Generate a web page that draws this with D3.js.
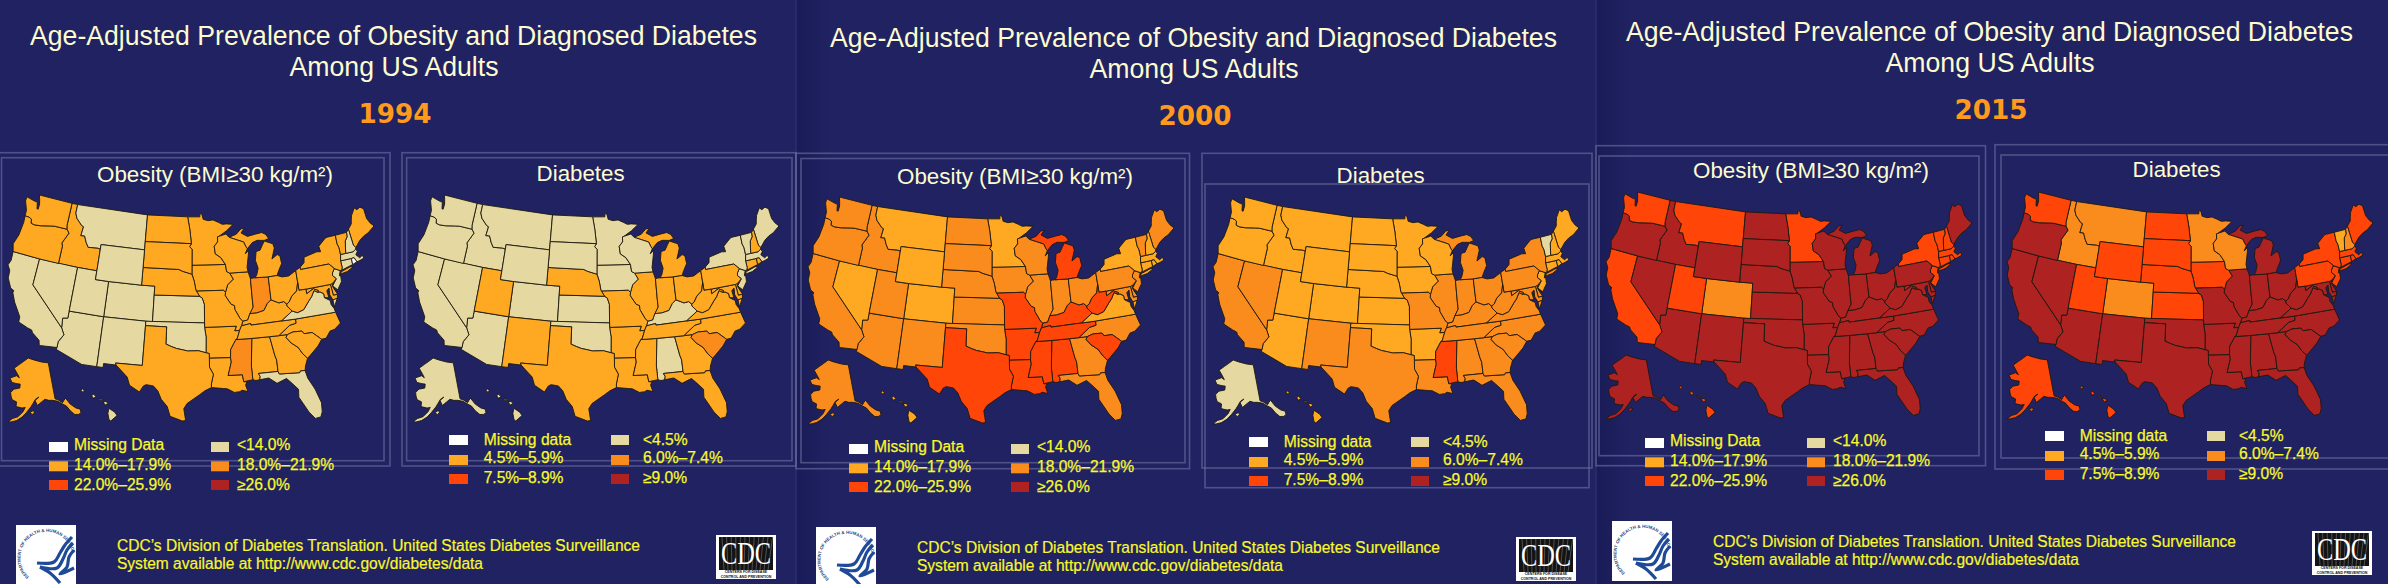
<!DOCTYPE html>
<html><head><meta charset="utf-8">
<script src="https://cdn.jsdelivr.net/npm/d3@7/dist/d3.min.js"></script>
<style>html,body{margin:0;padding:0;background:#202262;overflow:hidden}svg{display:block}text{font-family:"Liberation Sans",Arial,sans-serif}</style>
</head><body><svg id="c" width="2388" height="584"></svg>
<script>
const titleLines=["Age-Adjusted Prevalence of Obesity and Diagnosed Diabetes","Among US Adults"];
const years=["1994","2000","2015"];
const obesityLegend=["Missing Data","14.0%–17.9%","22.0%–25.9%","<14.0%","18.0%–21.9%","≥26.0%"];
const diabetesLegend=["Missing data","4.5%–5.9%","7.5%–8.9%","<4.5%","6.0%–7.4%","≥9.0%"];
const legendClasses=[-1,1,3,0,2,4];
const footerLines=["CDC’s Division of Diabetes Translation. United States Diabetes Surveillance","System available at http://www.cdc.gov/diabetes/data"];
const classDomain=[-1,0,1,2,3,4];
const classColors=["#ffffff","#e5d8a0","#fea921","#fa8c1e","#ff4508","#af2222"];
const stateIds=["AL","AK","AZ","AR","CA","CO","CT","DE","DC","FL","GA","HI","ID","IL","IN","IA","KS","KY","LA","ME","MD","MA","MI","MN","MS","MO","MT","NE","NV","NH","NJ","NM","NY","NC","ND","OH","OK","OR","PA","RI","SC","SD","TN","TX","UT","VT","VA","WA","WV","WI","WY"];
const obesity1994=[1,1,0,1,0,0,0,1,1,0, 1,0,1,1,2,1,0,1,1,1, 1,0,1,1,2,1,0,1,0,0, 0,0,1,1,1,1,0,1,1,-1, 1,1,1,1,0,1,0,1,1,1, 0];
const diabetes1994=[0,0,0,1,0,0,1,1,1,1, 1,0,0,1,1,0,0,0,1,0, 1,0,1,0,1,1,0,1,0,1, 0,1,0,1,0,1,0,0,1,1, 2,0,1,1,1,0,1,0,1,0, 0];
const obesity2000=[3,2,2,3,2,1,1,2,2,2, 2,1,2,2,2,2,2,3,3,2, 2,1,3,1,3,3,1,2,1,1, 2,2,1,2,2,2,2,2,2,1, 3,2,3,3,2,2,1,2,3,2, 1];
const diabetes2000=[2,0,1,1,2,1,1,2,2,2, 2,1,1,2,2,1,1,2,2,1, 2,1,2,1,3,2,1,1,2,1, 1,2,2,2,1,2,1,1,2,1, 2,1,2,2,1,0,2,1,2,1, 1];
const obesity2015=[4,4,4,4,3,2,3,4,4,4, 4,3,4,4,4,4,4,4,4,4, 4,3,4,3,4,4,3,4,4,3, 3,4,3,4,4,4,4,4,4,3, 4,4,4,4,3,3,4,3,4,4, 4];
const diabetes2015=[4,3,4,4,4,2,3,4,4,4, 4,3,2,4,4,3,3,4,4,3, 4,3,4,2,4,4,2,3,4,2, 3,4,3,4,3,4,4,4,3,3, 4,3,4,4,3,1,4,3,4,2, 3];
const stateRings={
WA:[[[-124.7,48.4],[-123.1,48.15],[-122.75,48.15],[-122.5,47.4],[-122.3,47.4],[-122.3,48],[-122.5,48.5],[-122.75,49],[-117.03,49],[-117.04,46.42],[-116.92,45.99],[-118.98,46],[-119.6,45.92],[-121.2,45.65],[-122.2,45.57],[-122.75,45.65],[-122.9,46.1],[-123.4,46.25],[-124.05,46.27],[-124.1,46.9],[-124.7,47.9]]],
OR:[[[-124.05,46.27],[-123.4,46.25],[-122.9,46.1],[-122.75,45.65],[-122.2,45.57],[-121.2,45.65],[-119.6,45.92],[-118.98,46],[-116.92,45.99],[-116.46,45.6],[-116.85,44.95],[-117.22,44.35],[-117.03,44],[-117.03,42],[-120,42],[-124.2,42],[-124.55,42.84],[-124.1,44],[-123.95,45.5]]],
CA:[[[-124.2,42],[-120,42],[-120,39],[-114.63,35],[-114.13,34.27],[-114.72,33.4],[-114.72,32.72],[-117.12,32.53],[-117.3,33.1],[-118.4,33.75],[-118.6,34.03],[-119.2,34.15],[-120.6,34.55],[-120.65,35.15],[-121.9,36.6],[-122.5,37.55],[-122.45,37.8],[-123,38],[-123.75,39],[-123.85,39.85],[-124.35,40.4],[-124.1,41]]],
NV:[[[-120,42],[-114.04,42],[-114.04,37],[-114.04,36.2],[-114.75,36.1],[-114.63,35],[-120,39]]],
ID:[[[-117.03,49],[-116.05,49],[-116.05,48],[-115.7,47.45],[-114.7,46.75],[-114.35,46.65],[-114.5,45.6],[-113.9,45.65],[-113.45,44.95],[-113,44.45],[-111.5,44.55],[-111.05,44.48],[-111.05,42],[-114.04,42],[-117.03,42],[-117.03,44],[-117.22,44.35],[-116.85,44.95],[-116.46,45.6],[-116.92,45.99],[-117.04,46.42]]],
MT:[[[-116.05,49],[-104.05,49],[-104.05,45.94],[-104.05,45],[-111.05,45],[-111.05,44.48],[-111.5,44.55],[-113,44.45],[-113.45,44.95],[-113.9,45.65],[-114.5,45.6],[-114.35,46.65],[-114.7,46.75],[-115.7,47.45],[-116.05,48]]],
WY:[[[-111.05,45],[-104.05,45],[-104.05,43],[-104.05,41],[-109.05,41],[-111.05,41]]],
UT:[[[-114.04,42],[-111.05,42],[-111.05,41],[-109.05,41],[-109.05,37],[-114.04,37]]],
CO:[[[-109.05,41],[-104.05,41],[-102.05,41],[-102.05,40],[-102.05,37],[-103,37],[-109.05,37]]],
AZ:[[[-114.63,35],[-114.75,36.1],[-114.04,36.2],[-114.04,37],[-109.05,37],[-109.05,31.33],[-111.07,31.33],[-114.8,32.5],[-114.72,32.72],[-114.72,33.4],[-114.13,34.27]]],
NM:[[[-109.05,37],[-103,37],[-103,36.5],[-103.04,32],[-106.62,32],[-106.53,31.78],[-108.2,31.78],[-108.2,31.33],[-109.05,31.33]]],
ND:[[[-104.05,49],[-97.23,49],[-96.85,47.6],[-96.56,45.94],[-104.05,45.94]]],
SD:[[[-104.05,45.94],[-96.56,45.94],[-96.85,45.6],[-96.45,45.3],[-96.45,43.5],[-96.45,42.49],[-97.9,42.8],[-98.5,43],[-104.05,43]]],
NE:[[[-104.05,43],[-98.5,43],[-97.9,42.8],[-96.45,42.49],[-96.1,41.7],[-95.85,40.7],[-95.3,40],[-102.05,40],[-102.05,41],[-104.05,41]]],
KS:[[[-102.05,40],[-95.3,40],[-94.9,39.8],[-94.6,39.1],[-94.62,37],[-102.05,37]]],
OK:[[[-103,37],[-94.62,37],[-94.62,36.5],[-94.43,35.4],[-94.48,33.64],[-95.5,33.88],[-97,33.85],[-97.7,33.98],[-98.5,34.1],[-99.2,34.3],[-100,34.56],[-100,36.5],[-103,36.5]]],
TX:[[[-106.62,32],[-103.04,32],[-103,36.5],[-100,36.5],[-100,34.56],[-99.2,34.3],[-98.5,34.1],[-97.7,33.98],[-97,33.85],[-95.5,33.88],[-94.48,33.64],[-94.04,33.55],[-94.04,33.02],[-94.04,32],[-93.55,31.2],[-93.85,30.1],[-93.85,29.7],[-94.7,29.35],[-95.4,28.9],[-97,27.9],[-97.4,27.3],[-97.15,25.96],[-97.55,25.9],[-99.1,26.4],[-99.5,27.5],[-100.3,28.3],[-100.8,29.25],[-101.4,29.77],[-102.35,29.87],[-102.7,29.7],[-103.15,28.98],[-104.5,29.65],[-104.9,30.55],[-106.53,31.78]]],
MN:[[[-97.23,49],[-95.15,49],[-95.15,49.38],[-94.8,49.3],[-94.6,48.72],[-93.8,48.55],[-92.95,48.62],[-92,48.3],[-91.4,48.07],[-90.75,48.1],[-89.6,48],[-90.8,47.3],[-92.05,46.72],[-92.3,46.66],[-92.3,46.1],[-92.88,45.6],[-92.75,44.75],[-91.9,44.3],[-91.22,43.5],[-96.45,43.5],[-96.45,45.3],[-96.85,45.6],[-96.56,45.94],[-96.85,47.6]]],
IA:[[[-96.45,43.5],[-91.22,43.5],[-91.1,42.7],[-90.65,42.5],[-90.15,41.8],[-91.05,41.2],[-91.42,40.38],[-91.73,40.61],[-95.77,40.58],[-95.85,40.7],[-96.1,41.7],[-96.45,42.49]]],
MO:[[[-95.77,40.58],[-91.73,40.61],[-91.42,40.38],[-91.5,40],[-90.7,39],[-90.2,38.8],[-90.2,38.4],[-89.5,37.3],[-89.15,37],[-89.4,36.5],[-89.7,36],[-90.37,36],[-90.1,36.5],[-94.62,36.5],[-94.62,37],[-94.6,39.1],[-94.9,39.8],[-95.3,40]]],
AR:[[[-94.62,36.5],[-90.1,36.5],[-90.37,36],[-89.7,36],[-90.1,35.1],[-90.3,35],[-90.6,34.6],[-91.1,33.9],[-91.17,33],[-94.04,33.02],[-94.04,33.55],[-94.48,33.64],[-94.43,35.4]]],
LA:[[[-94.04,33.02],[-91.17,33],[-91.1,32.5],[-91.6,31],[-89.73,31],[-89.6,30.2],[-89.2,30.15],[-89.4,29.8],[-89.15,29.05],[-89.9,29.25],[-90.2,29.1],[-90.9,29.05],[-91.8,29.5],[-92.3,29.55],[-93.85,29.7],[-93.85,30.1],[-93.55,31.2],[-94.04,32]]],
MS:[[[-91.17,33],[-91.1,33.9],[-90.6,34.6],[-90.3,35],[-88.2,35],[-88.1,34.9],[-88.45,31.9],[-88.4,30.35],[-89.6,30.2],[-89.73,31],[-91.6,31],[-91.1,32.5]]],
AL:[[[-88.2,35],[-85.6,35],[-85.18,32.87],[-85,32.3],[-85,31],[-87.6,31],[-87.4,30.65],[-87.5,30.28],[-88,30.23],[-88.4,30.35],[-88.45,31.9],[-88.1,34.9]]],
GA:[[[-85.6,35],[-84.32,35],[-83.1,35],[-83.35,34.7],[-82.75,34],[-81.9,33.4],[-81.4,32.6],[-80.87,32.03],[-81.3,31.2],[-81.45,30.7],[-82.05,30.75],[-82.2,30.55],[-84.86,30.7],[-85,31],[-85,32.3],[-85.18,32.87]]],
FL:[[[-87.6,31],[-85,31],[-84.86,30.7],[-82.2,30.55],[-82.05,30.75],[-81.45,30.7],[-81.25,29.8],[-80.55,28.45],[-80.03,26.8],[-80.13,25.75],[-80.4,25.2],[-81.1,25.13],[-81.75,25.95],[-82.15,26.7],[-82.75,27.8],[-82.65,28.7],[-83.4,29.5],[-84,30.1],[-85.3,29.68],[-86.3,30.38],[-87.5,30.28],[-87.4,30.65]]],
SC:[[[-83.1,35],[-82.3,35.2],[-81.05,35.15],[-80.8,34.82],[-79.67,34.8],[-78.55,33.86],[-79.2,33.2],[-80.45,32.3],[-80.87,32.03],[-81.4,32.6],[-81.9,33.4],[-82.75,34],[-83.35,34.7]]],
NC:[[[-84.32,35],[-83.1,35],[-82.3,35.2],[-81.05,35.15],[-80.8,34.82],[-79.67,34.8],[-78.55,33.86],[-77.9,33.9],[-77.2,34.6],[-76.5,34.7],[-75.55,35.25],[-75.9,36.55],[-81.68,36.59],[-81.7,36.12],[-82.6,36]]],
TN:[[[-90.3,35],[-88.2,35],[-85.6,35],[-84.32,35],[-82.6,36],[-81.7,36.12],[-81.68,36.59],[-83.67,36.6],[-88.05,36.5],[-88.07,36.68],[-89.4,36.5],[-89.7,36],[-90.1,35.1]]],
KY:[[[-89.4,36.5],[-88.07,36.68],[-88.05,36.5],[-83.67,36.6],[-81.97,37.54],[-82.6,38.17],[-82.6,38.4],[-83,38.73],[-83.7,38.65],[-84.8,39.1],[-85.4,38.73],[-86,38],[-87.1,37.8],[-88.05,37.8],[-88.45,37.1],[-89.15,37]]],
VA:[[[-83.67,36.6],[-81.68,36.59],[-75.9,36.55],[-76,37],[-76.3,37.5],[-76.3,37.95],[-77.05,38.4],[-77.05,38.85],[-77.5,39.1],[-77.83,39.13],[-78.35,39.4],[-78.87,38.76],[-79.3,38.42],[-80.3,37.5],[-81.25,37.27],[-81.97,37.54]],[[-75.9,37.95],[-75.25,38.03],[-75.9,37.15]]],
WV:[[[-81.97,37.54],[-81.25,37.27],[-80.3,37.5],[-79.3,38.42],[-78.87,38.76],[-78.35,39.4],[-77.83,39.13],[-77.72,39.32],[-78.4,39.62],[-79.48,39.2],[-79.48,39.72],[-80.52,39.72],[-80.52,40.64],[-80.87,39.7],[-81.7,39.2],[-82.2,38.6],[-82.6,38.4],[-82.6,38.17]]],
OH:[[[-84.8,41.7],[-83.45,41.73],[-82.7,41.5],[-81.7,41.5],[-80.52,41.98],[-80.52,40.64],[-80.87,39.7],[-81.7,39.2],[-82.2,38.6],[-82.6,38.4],[-83,38.73],[-83.7,38.65],[-84.8,39.1]]],
IN:[[[-87.53,41.7],[-87.2,41.75],[-86.8,41.76],[-84.8,41.7],[-84.8,39.1],[-85.4,38.73],[-86,38],[-87.1,37.8],[-88.05,37.8],[-87.5,38.5],[-87.53,39.35]]],
IL:[[[-90.65,42.5],[-87.8,42.5],[-87.53,41.7],[-87.53,39.35],[-87.5,38.5],[-88.05,37.8],[-88.45,37.1],[-89.15,37],[-89.5,37.3],[-90.2,38.4],[-90.2,38.8],[-90.7,39],[-91.5,40],[-91.42,40.38],[-91.05,41.2],[-90.15,41.8]]],
WI:[[[-92.3,46.66],[-92.05,46.72],[-90.9,46.95],[-90.4,46.55],[-88.1,45.9],[-87.8,45.35],[-87.6,45.1],[-88,44.55],[-87.4,44.9],[-87.55,44.3],[-87.9,43],[-87.8,42.5],[-90.65,42.5],[-91.1,42.7],[-91.22,43.5],[-91.9,44.3],[-92.75,44.75],[-92.88,45.6],[-92.3,46.1]]],
MI:[[[-86.8,41.76],[-84.8,41.7],[-83.45,41.73],[-83.1,42.25],[-82.5,43],[-82.6,43.9],[-83,44.07],[-83.9,43.65],[-83.3,44.85],[-83.45,45.35],[-84.75,45.78],[-85.1,45.4],[-85.6,44.8],[-86.25,44.7],[-86.5,43.7],[-86.2,42.8],[-86.5,42.1]],[[-90.4,46.55],[-89.2,46.85],[-88.4,47.4],[-87.8,47.47],[-88.4,46.95],[-87.4,46.5],[-86.1,46.67],[-85,46.77],[-84.4,46.5],[-84,46],[-84.75,45.85],[-85.9,45.95],[-86.7,45.75],[-87.6,45.1],[-87.8,45.35],[-88.1,45.9]]],
PA:[[[-80.52,41.98],[-79.76,42.27],[-79.76,42],[-75.35,42],[-74.7,41.36],[-75.1,40.95],[-75.2,40.65],[-74.75,40.2],[-75.4,39.8],[-75.78,39.72],[-79.48,39.72],[-80.52,39.72]]],
NY:[[[-79.76,42.27],[-79.05,42.7],[-78.9,43.3],[-76.8,43.63],[-76.2,43.55],[-76.3,44.2],[-75,44.95],[-74.7,45],[-73.35,45],[-73.4,44],[-73.25,43.55],[-73.27,42.75],[-73.5,42.05],[-73.5,41.3],[-73.65,41],[-73.9,41],[-74.7,41.36],[-75.35,42],[-79.76,42]],[[-74.05,40.6],[-73.75,40.85],[-72.3,41.15],[-71.9,41.05],[-72.9,40.7]]],
NJ:[[[-74.7,41.36],[-73.9,41],[-74.2,40.45],[-74,40.4],[-74.1,39.75],[-74.9,38.95],[-75.5,39.5],[-74.75,40.2],[-75.2,40.65],[-75.1,40.95]]],
DE:[[[-75.78,39.72],[-75.4,39.8],[-75.55,39.45],[-75.05,38.45],[-75.7,38.46]]],
MD:[[[-79.48,39.72],[-75.78,39.72],[-75.7,38.46],[-75.05,38.45],[-75.25,38.03],[-75.9,37.95],[-76.2,38.6],[-76.1,39.35],[-76.5,39.1],[-76.4,38.3],[-77.05,38.4],[-77.05,38.85],[-77.5,39.1],[-77.83,39.13],[-77.72,39.32],[-78.4,39.62],[-79.48,39.2]]],
DC:[[[-77.12,38.93],[-77.04,39],[-76.91,38.89],[-77.04,38.79]]],
CT:[[[-73.5,42.05],[-71.8,42.02],[-71.85,41.32],[-73.65,41],[-73.5,41.3]]],
RI:[[[-71.8,42.02],[-71.38,42.02],[-71.12,41.5],[-71.85,41.32]]],
MA:[[[-73.5,42.05],[-73.27,42.75],[-72.46,42.73],[-71.3,42.7],[-70.85,42.88],[-70.6,42.65],[-71,42.3],[-70.55,41.85],[-70.05,42.05],[-69.95,41.7],[-70.65,41.55],[-71.12,41.5],[-71.38,42.02],[-71.8,42.02]]],
VT:[[[-73.35,45],[-71.5,45.01],[-71.6,44.5],[-72.05,44.1],[-72.46,42.73],[-73.27,42.75],[-73.25,43.55],[-73.4,44]]],
NH:[[[-71.5,45.01],[-71.08,45.3],[-70.98,43.4],[-70.7,43.08],[-70.85,42.88],[-71.3,42.7],[-72.46,42.73],[-72.05,44.1],[-71.6,44.5]]],
ME:[[[-71.08,45.3],[-70.4,45.8],[-70.25,46.2],[-70,46.7],[-69.23,47.46],[-68.9,47.18],[-68.3,47.35],[-67.79,47.07],[-67.78,45.9],[-67.45,45.3],[-67,44.85],[-68.2,44.3],[-69,44.1],[-69.8,43.75],[-70.7,43.08],[-70.98,43.4]]],
AK:[[[-141,69.65],[-141,60.3],[-139.5,59.9],[-137.5,58.9],[-136.5,59.4],[-135.4,59.8],[-133.9,58],[-131.8,56.6],[-130,55.9],[-130.2,55],[-131.5,54.8],[-133.2,55.1],[-134.7,56.3],[-136,57.8],[-137.5,58.5],[-139.8,59.55],[-142.5,60.05],[-144.5,60.2],[-146.5,60.6],[-148.5,60],[-150.8,59.2],[-152,60.5],[-149.8,61.3],[-151.7,60.8],[-153.2,59.7],[-154.2,58.9],[-156.5,57.4],[-158.5,56.2],[-161,55.2],[-163.5,54.65],[-164.9,54.6],[-163,55.6],[-160.5,56.2],[-158.2,57.6],[-157.2,58.7],[-158.8,58.5],[-162,58.7],[-162,59.9],[-164.5,60.3],[-165.4,61.1],[-166,62],[-164.5,63],[-161,63.5],[-161,64.5],[-163,64.5],[-166.3,64.6],[-168,65.6],[-164,66.5],[-162,66.1],[-163.8,67.1],[-166.5,68.3],[-163,69.5],[-160,70.4],[-156.6,71.35],[-152,70.85],[-146,70.15]],[[-154.6,57.5],[-153.2,57.9],[-152.2,57.6],[-153.6,56.9]]],
HI:[[[-155.9,20.25],[-155.1,19.85],[-154.8,19.5],[-155.65,18.95],[-155.9,19.1],[-156.05,19.75]],[[-156.7,20.9],[-156.3,20.95],[-156,20.75],[-156.4,20.58]],[[-157.3,21.2],[-156.75,21.17],[-156.75,21.08],[-157.25,21.08]],[[-158.27,21.55],[-158,21.7],[-157.7,21.45],[-157.95,21.3],[-158.1,21.3]],[[-159.75,22.1],[-159.55,22.22],[-159.3,22.1],[-159.4,21.9],[-159.65,21.95]]]
};

/* ---- layout ---- */
const svg=d3.select("#c");
const W=2388,H=584;
svg.append("rect").attr("width",W).attr("height",H).attr("fill","#202262");
const edge=svg.append("defs").append("linearGradient").attr("id","edge");
edge.append("stop").attr("offset",0).attr("stop-color","#1a1c58");
edge.append("stop").attr("offset",1).attr("stop-color","#202262");
[797,1597].forEach(x=>{
  svg.append("rect").attr("x",x).attr("y",0).attr("width",34).attr("height",H).attr("fill","url(#edge)");
  svg.append("line").attr("x1",x-1).attr("x2",x-1).attr("y1",0).attr("y2",H).attr("stroke","#2b2d70").attr("stroke-width",1.5);
});
const color=d3.scaleOrdinal().domain(classDomain).range(classColors);

function regionPath(ids,proj,box){
  const pts=[];
  ids.forEach(id=>stateRings[id].forEach(r=>r.forEach(p=>pts.push(proj(p)))));
  const sx=d3.scaleLinear().domain(d3.extent(pts,p=>p[0])).range([box[0],box[2]]);
  const sy=d3.scaleLinear().domain(d3.extent(pts,p=>p[1])).range([box[1],box[3]]);
  return d3.geoPath(d3.geoTransform({point(x,y){const p=proj([x,y]);this.stream.point(sx(p[0]),sy(p[1]));}}));
}
const lower=stateIds.filter(d=>d!=="AK"&&d!=="HI");
const pathLower=regionPath(lower,d3.geoAlbers(),[8,195,374,421]);
const pathAK=regionPath(["AK"],d3.geoConicEqualArea().rotate([154,0]).center([-2,58.5]).parallels([55,65]),[8,358,81,422]);
const pathHI=regionPath(["HI"],d3.geoConicEqualArea().rotate([157,0]).center([-3,19.9]).parallels([8,18]),[81,389,117,421]);
const pathFor=id=>id==="AK"?pathAK:id==="HI"?pathHI:pathLower;

function drawMap(g,values,dx,dy){
  const m=g.append("g").attr("transform",`translate(${dx},${dy})`);
  m.selectAll("path").data(stateIds).join("path")
    .attr("d",id=>pathFor(id)({type:"MultiPolygon",coordinates:stateRings[id].map(r=>[r.concat([r[0]])])}))
    .attr("fill",(id,i)=>color(values[i]))
    .attr("stroke","#1c1a10").attr("stroke-width",0.9).attr("stroke-linejoin","round");
}
function frame(x0,y0,x1,y1){
  svg.append("rect").attr("x",x0).attr("y",y0).attr("width",x1-x0).attr("height",y1-y0)
    .attr("fill","none").attr("stroke","#6a6c9c").attr("stroke-width",1.6).attr("opacity",.65);
}
function legend(g,labels,x1,x2,tx1,tx2,rowsSw,rowsTx){
  labels.forEach((t,i)=>{
    const col=i<3?0:1,row=i%3;
    g.append("rect").attr("x",col?x2:x1).attr("y",rowsSw[row]).attr("width",col?18:19).attr("height",10)
      .attr("fill",color(legendClasses[i]));
    g.append("text").attr("x",col?tx2:tx1).attr("y",rowsTx[row]+5.5).attr("font-size",15.6).attr("fill","#f8f82a")
      .attr("stroke","#f8f82a").attr("stroke-width",.25).text(t);
  });
}
function hhsLogo(g,x,y){
  const l=g.append("g").attr("transform",`translate(${x},${y})`);
  l.append("rect").attr("width",60).attr("height",60).attr("fill","#fff");
  const id="arc"+x;
  l.append("path").attr("id",id).attr("fill","none").attr("d","M 13 52 A 26 26 0 1 1 56 28");
  l.append("text").attr("font-size",4.4).attr("fill","#24437f").attr("font-weight","bold").append("textPath").attr("href","#"+id).text("DEPARTMENT OF HEALTH & HUMAN SERVICES·USA");
  const ln=d3.line().curve(d3.curveCatmullRom);
  [[[56,12],[49,20],[44,28],[38,37],[21,38]],[[57,18],[51,25],[47,34],[41,43],[24,42]],[[58,25],[53,32],[51,42],[44,49],[58,43]],[[24,42],[34,48],[44,58]]]
    .forEach(s=>l.append("path").attr("d",ln(s)).attr("fill","none").attr("stroke","#1f4a98").attr("stroke-width",3.2));
}
function cdcLogo(g,x,y){
  const l=g.append("g").attr("transform",`translate(${x},${y})`);
  l.append("rect").attr("width",60).attr("height",44).attr("fill","#fff");
  l.append("rect").attr("x",3).attr("y",2).attr("width",54).attr("height",33).attr("fill","#141414");
  d3.range(0,12).forEach(i=>l.append("line").attr("x1",8+i*4).attr("y1",35).attr("x2",6+i*4.6).attr("y2",2).attr("stroke","#8a8a8a").attr("stroke-width",.5));
  l.append("text").attr("x",30).attr("y",29).attr("text-anchor","middle").attr("font-size",31).attr("fill","#fff")
    .attr("textLength",50).attr("lengthAdjust","spacingAndGlyphs").style("font-family","'Liberation Serif',serif").text("CDC");
  l.append("text").attr("x",30).attr("y",38).attr("text-anchor","middle").attr("font-size",3.6).attr("font-weight","bold").attr("fill","#111").text("CENTERS FOR DISEASE");
  l.append("text").attr("x",30).attr("y",42.5).attr("text-anchor","middle").attr("font-size",3.6).attr("font-weight","bold").attr("fill","#111").text("CONTROL AND PREVENTION");
}

/* slide frames */
frame(-5,152.7,390,466); frame(1.5,157.7,384,460.7);
frame(402,152.7,796,466); frame(406.6,157.7,792,460.7);
frame(796,153.3,1189.5,468.7); frame(801,158.5,1185,462.7);
frame(1202,153.3,1592,468); frame(1205,184,1589,487.7);
frame(1596,145.7,1985.5,465.7); frame(1599,156,1979,455.7);
frame(1995,144.7,2400,469); frame(2001,155,2400,458);

const slides=[
 {year:years[0],dx:0,dy:0,map:[0,0],map2:[405,0],ob:obesity1994,di:diabetes1994},
 {year:years[1],dx:800,dy:2,map:[800,2],map2:[1205,2],ob:obesity2000,di:diabetes2000},
 {year:years[2],dx:1596,dy:-4,map:[1598,-3],map2:[1999,-3],ob:obesity2015,di:diabetes2015}
];
slides.forEach(s=>{
  const g=svg.append("g");
  const t=g.append("g").attr("transform",`translate(${s.dx},${s.dy})`);
  t.append("text").attr("x",393.5).attr("y",44.5).attr("text-anchor","middle").attr("font-size",27.5).attr("fill","#fdfbd0")
    .attr("textLength",727).attr("lengthAdjust","spacingAndGlyphs").text(titleLines[0]);
  t.append("text").attr("x",394).attr("y",75.5).attr("text-anchor","middle").attr("font-size",27.5).attr("fill","#fdfbd0")
    .attr("textLength",209).attr("lengthAdjust","spacingAndGlyphs").text(titleLines[1]);
  t.append("text").attr("x",395).attr("y",123).attr("text-anchor","middle").attr("font-size",27).attr("font-weight","bold")
    .attr("fill","#ff9a1c").attr("textLength",73).attr("lengthAdjust","spacingAndGlyphs").style("font-family","'DejaVu Sans',sans-serif").text(s.year);
  t.append("text").attr("x",215).attr("y",182).attr("text-anchor","middle").attr("font-size",22.5).attr("fill","#fdfbd0")
    .attr("textLength",236).attr("lengthAdjust","spacingAndGlyphs").text("Obesity (BMI≥30 kg/m²)");
  t.append("text").attr("x",580.6).attr("y",181).attr("text-anchor","middle").attr("font-size",22.5).attr("fill","#fdfbd0")
    .attr("textLength",88).attr("lengthAdjust","spacingAndGlyphs").text("Diabetes");
  legend(t,obesityLegend,49,211,74,237,[442,461.3,480],[444.7,464.7,484.3]);
  legend(t,diabetesLegend,449,611,483.7,643,[435,455,474],[439,457.7,477.7]);
  t.append("text").attr("x",117).attr("y",551).attr("font-size",15.8).attr("fill","#f8f82a").attr("stroke","#f8f82a").attr("stroke-width",.2)
    .attr("textLength",523).attr("lengthAdjust","spacingAndGlyphs").text(footerLines[0]);
  t.append("text").attr("x",117).attr("y",569).attr("font-size",15.8).attr("fill","#f8f82a").attr("stroke","#f8f82a").attr("stroke-width",.2)
    .attr("textLength",366).attr("lengthAdjust","spacingAndGlyphs").text(footerLines[1]);
  hhsLogo(t,16,525); cdcLogo(t,716,535);
  drawMap(g,s.ob,s.map[0],s.map[1]);
  drawMap(g,s.di,s.map2[0],s.map2[1]);
});
</script></body></html>
